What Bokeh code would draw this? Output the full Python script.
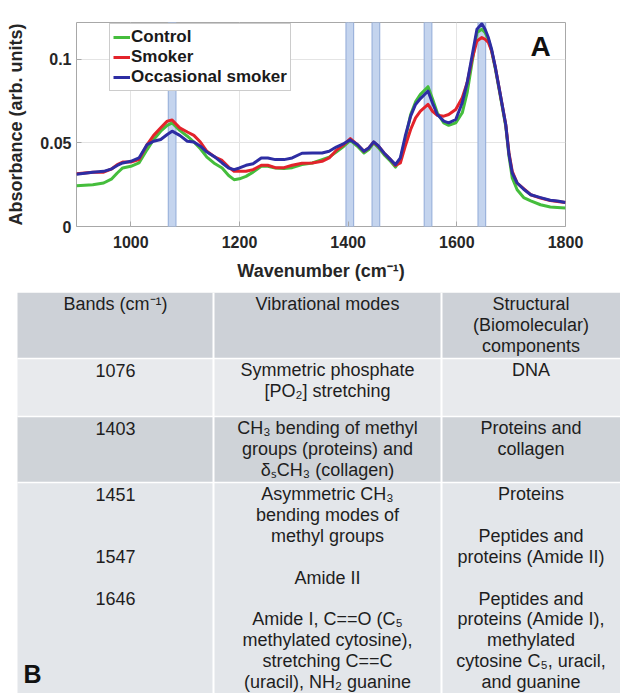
from bokeh.plotting import figure
from bokeh.models import Range1d, FixedTicker, Legend, LegendItem, Label, ColumnDataSource
from bokeh.embed import file_html
from bokeh.resources import INLINE
from bokeh.core.properties import value

# ---------------- data ----------------
wavenumber = [900, 930, 950, 965, 975, 985, 1000, 1015, 1030, 1042, 1055, 1067, 1076,
              1090, 1104, 1116, 1128, 1140, 1155, 1168, 1180, 1190, 1200, 1212, 1225,
              1240, 1252, 1266, 1282, 1297, 1315, 1334, 1352, 1365, 1378, 1392, 1404,
              1417, 1429, 1438, 1447, 1456, 1466, 1478, 1487, 1496, 1505, 1515, 1524,
              1533, 1547, 1555, 1564, 1576, 1585, 1598, 1610, 1619, 1628, 1637, 1646,
              1652, 1658, 1664, 1671, 1680, 1690, 1696, 1702, 1711, 1723, 1736, 1754,
              1772, 1785, 1800]

control = [0.0243, 0.0250, 0.0260, 0.0285, 0.0320, 0.0350, 0.0360, 0.0380, 0.0460,
           0.0520, 0.0570, 0.0605, 0.0620, 0.0575, 0.0540, 0.0505, 0.0465, 0.0415,
           0.0375, 0.0350, 0.0305, 0.0280, 0.0285, 0.0300, 0.0325, 0.0360, 0.0360,
           0.0350, 0.0347, 0.0352, 0.0370, 0.0380, 0.0400, 0.0415, 0.0445, 0.0480,
           0.0515, 0.0480, 0.0440, 0.0460, 0.0500, 0.0470, 0.0430, 0.0390, 0.0355,
           0.0400, 0.0520, 0.0670, 0.0745, 0.0790, 0.0836, 0.0765, 0.0680, 0.0620,
           0.0605, 0.0620, 0.0680, 0.0800, 0.0980, 0.1160, 0.1180, 0.1160, 0.1120,
           0.1050, 0.0940, 0.0780, 0.0600, 0.0420, 0.0290, 0.0220, 0.0173, 0.0153,
           0.0130, 0.0117, 0.0114, 0.0110]

smoker = [0.0315, 0.0325, 0.0325, 0.0345, 0.0370, 0.0385, 0.0385, 0.0400, 0.0490,
          0.0545, 0.0590, 0.0630, 0.0637, 0.0590, 0.0565, 0.0545, 0.0505, 0.0450,
          0.0415, 0.0395, 0.0355, 0.0330, 0.0330, 0.0330, 0.0340, 0.0366, 0.0366,
          0.0352, 0.0352, 0.0366, 0.0378, 0.0380, 0.0390, 0.0410, 0.0455, 0.0490,
          0.0526, 0.0490, 0.0450, 0.0470, 0.0505, 0.0480, 0.0440, 0.0400, 0.0365,
          0.0380, 0.0480, 0.0580, 0.0650, 0.0690, 0.0730, 0.0690, 0.0665, 0.0660,
          0.0670, 0.0700, 0.0770, 0.0860, 0.1000, 0.1110, 0.1130, 0.1120, 0.1100,
          0.1050, 0.0950, 0.0790, 0.0610, 0.0440, 0.0330, 0.0260, 0.0227, 0.0190,
          0.0170, 0.0155, 0.0150, 0.0143]

occasional = [0.0313, 0.0325, 0.0330, 0.0345, 0.0365, 0.0380, 0.0390, 0.0410, 0.0490,
              0.0510, 0.0520, 0.0550, 0.0570, 0.0545, 0.0510, 0.0505, 0.0480, 0.0445,
              0.0415, 0.0380, 0.0350, 0.0340, 0.0350, 0.0366, 0.0375, 0.0410, 0.0410,
              0.0400, 0.0400, 0.0410, 0.0438, 0.0440, 0.0440, 0.0450, 0.0475, 0.0496,
              0.0518, 0.0490, 0.0450, 0.0470, 0.0506, 0.0480, 0.0440, 0.0400, 0.0370,
              0.0410, 0.0540, 0.0660, 0.0730, 0.0765, 0.0810, 0.0740, 0.0670, 0.0630,
              0.0620, 0.0640, 0.0740, 0.0860, 0.1020, 0.1180, 0.1213, 0.1180, 0.1130,
              0.1060, 0.0950, 0.0790, 0.0610, 0.0430, 0.0320, 0.0260, 0.0223, 0.0190,
              0.0173, 0.0157, 0.0153, 0.0143]

band_centers = [1076, 1403, 1451, 1547, 1646]
series_names = ["Control", "Smoker", "Occasional smoker"]
x_ticks = [1000, 1200, 1400, 1600, 1800]
y_ticks = [0, 0.05, 0.1]
y_tick_labels = ["0", "0.05", "0.1"]

# table contents (each cell = list of text lines; "" keeps an empty line)
table_bands = [["Bands (cm\u207b\u00b9)"], ["1076"], ["1403"],
               ["1451", "", "", "1547", "", "1646"]]
table_modes = [["Vibrational modes"],
               ["Symmetric phosphate", "[PO\u2082] stretching"],
               ["CH\u2083 bending of methyl", "groups (proteins) and", "\u03b4\u209bCH\u2083 (collagen)"],
               ["Asymmetric CH\u2083", "bending modes of", "methyl groups", "", "Amide II", "",
                "Amide I, C==O (C\u2085", "methylated cytosine),", "stretching C==C",
                "(uracil), NH\u2082 guanine"]]
table_components = [["Structural", "(Biomolecular)", "components"],
                    ["DNA"],
                    ["Proteins and", "collagen"],
                    ["Proteins", "", "Peptides and", "proteins (Amide II)", "",
                     "Peptides and", "proteins (Amide I),", "methylated",
                     "cytosine C\u2085, uracil,", "and guanine"]]

FONT = "Liberation Sans"
TXT = "#262626"

# ---------------- chart A ----------------
y_top = 0.122
p = figure(width=620, height=292, x_range=Range1d(900, 1800), y_range=Range1d(0, y_top),
           output_backend="svg", toolbar_location=None,
           min_border_left=76, min_border_right=55, min_border_top=22, min_border_bottom=66)
p.background_fill_color = "white"
p.outline_line_color = "#a8a8a8"
p.outline_line_width = 1

for ax in (p.xaxis[0], p.yaxis[0]):
    ax.axis_line_color = None
    ax.major_tick_in = 5
    ax.major_tick_out = 0
    ax.major_tick_line_color = "#a8a8a8"
    ax.minor_tick_line_color = None
    ax.major_label_text_font = FONT
    ax.major_label_text_font_style = "bold"
    ax.major_label_text_font_size = "16px"
    ax.major_label_text_color = TXT
    ax.axis_label_text_font = FONT
    ax.axis_label_text_font_style = "bold"
    ax.axis_label_text_font_size = "18px"
    ax.axis_label_text_color = TXT

p.xaxis.ticker = FixedTicker(ticks=x_ticks)
p.yaxis.ticker = FixedTicker(ticks=y_ticks)
p.yaxis.major_label_overrides = {t: l for t, l in zip(y_ticks, y_tick_labels)}
p.xaxis.axis_label = "Wavenumber (cm\u207b\u00b9)"
p.yaxis.axis_label = "Absorbance (arb. units)"
p.xaxis.major_label_standoff = 9
p.xaxis.axis_label_standoff = 10
p.yaxis.major_label_standoff = 5
p.yaxis.axis_label_standoff = 11

p.xgrid.ticker = FixedTicker(ticks=x_ticks)
p.ygrid.ticker = FixedTicker(ticks=y_ticks)
p.grid.grid_line_color = "#e4e4e4"
p.grid.grid_line_width = 1

band_src = ColumnDataSource(dict(x=band_centers, top=[y_top] * len(band_centers),
                                 bottom=[0] * len(band_centers)))
p.vbar(x="x", top="top", bottom="bottom", width=14, source=band_src,
       fill_color="#c4d4ee", line_color="#9cb3dc", line_width=1.2)

colors = ["#45bd3c", "#e3232b", "#2d2da3"]
renderers = []
for ys, c in zip([control, smoker, occasional], colors):
    r = p.line(wavenumber, ys, line_color=c, line_width=3, line_join="round")
    renderers.append(r)

legend = Legend(items=[LegendItem(label=n, renderers=[r]) for n, r in zip(series_names, renderers)],
                location=(33, 135), orientation="vertical")
legend.border_line_color = "#9a9a9a"
legend.border_line_width = 1
legend.background_fill_color = "white"
legend.background_fill_alpha = 1
legend.label_text_font = FONT
legend.label_text_font_style = "bold"
legend.label_text_font_size = "17px"
legend.label_text_color = "#1a1a1a"
legend.glyph_width = 17
legend.glyph_height = 18
legend.label_height = 20
legend.label_standoff = 1
legend.spacing = 0
legend.padding = 3
legend.margin = 0
p.add_layout(legend, "center")

p.add_layout(Label(x=900 + 0.949 * 900, y=0.881 * y_top, text="A", text_font=FONT,
                   text_font_style="bold", text_font_size="28px", text_color="#111111",
                   text_align="center", text_baseline="middle"))

# ---------------- table B ----------------
TW, TH = 620, 401
t = figure(width=TW, height=TH, x_range=Range1d(0, TW), y_range=Range1d(TH, 0),
           output_backend="svg", toolbar_location=None, min_border=0,
           x_axis_type=None, y_axis_type=None)
t.outline_line_color = None
t.background_fill_color = "white"
t.border_fill_color = "white"
t.grid.visible = False

row_edges = [0, 66, 124, 190, 410]
col_edges = [17, 213, 441, 624]
row_colors = ["#cdd1d7", "#e8eaed", "#cfd3d8", "#e3e6ea"]

t.quad(left=[col_edges[0]] * 4, right=[col_edges[-1]] * 4,
       top=row_edges[:-1], bottom=row_edges[1:], fill_color=row_colors, line_color=None)
# white separators
t.segment(x0=col_edges[1:-1], x1=col_edges[1:-1], y0=[0, 0], y1=[TH, TH],
          line_color="white", line_width=2)
t.segment(x0=[col_edges[0]] * 3, x1=[col_edges[-1]] * 3, y0=row_edges[1:4], y1=row_edges[1:4],
          line_color="white", line_width=1.5)

pad, lh = 11.5, 20.9
xs, ys, texts = [], [], []
for ci, col in enumerate([table_bands, table_modes, table_components]):
    cx = (col_edges[ci] + min(col_edges[ci + 1], 620)) / 2
    for ri, cell in enumerate(col):
        for li, line in enumerate(cell):
            if line:
                xs.append(cx)
                ys.append(row_edges[ri] + pad + li * lh)
                texts.append(line)
t.text(x=xs, y=ys, text=texts, text_font=value(FONT), text_font_size="18px",
       text_color="#1e1e1e", text_align="center", text_baseline="middle")

t.add_layout(Label(x=23, y=381, text="B", text_font=FONT, text_font_style="bold",
                   text_font_size="25px", text_color="#111111", text_align="left",
                   text_baseline="middle"))

open("out.html", "w").write(file_html([p, t], INLINE))
